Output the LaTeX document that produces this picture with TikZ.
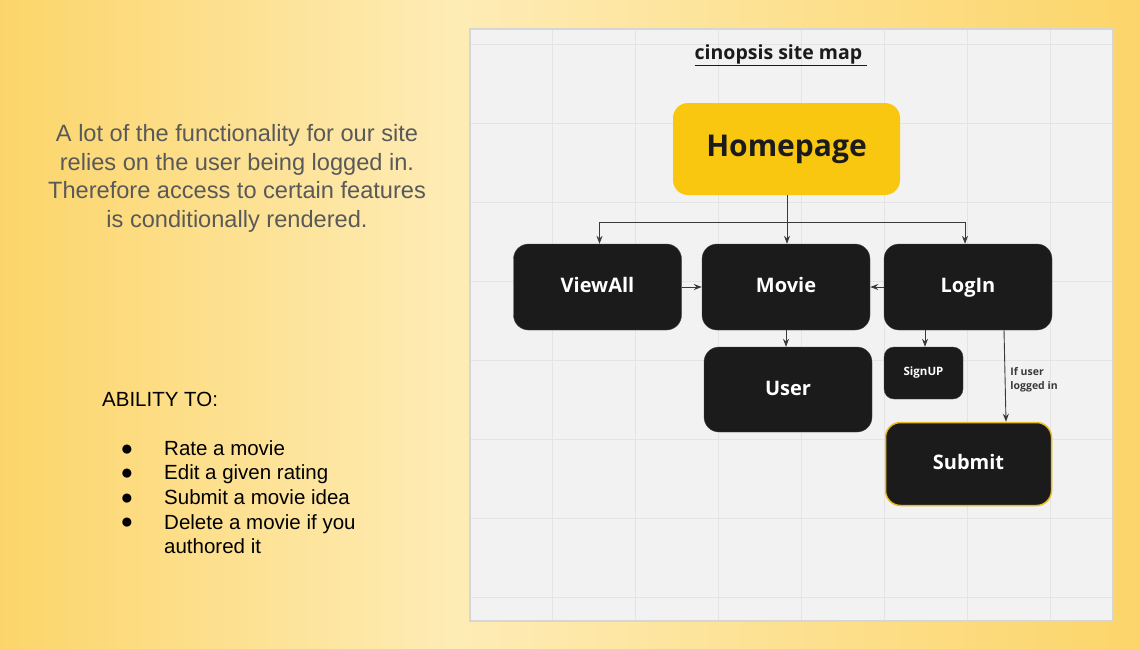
\documentclass[tikz,border=0pt]{standalone}
\usepackage{fontspec}
\setmainfont{Liberation Sans}
\newfontfamily\mapfont{Open Sans}
\usetikzlibrary{arrows.meta,positioning}
\usepackage{xcolor}

\definecolor{bgdark}{HTML}{FCD56A}
\definecolor{bglight}{HTML}{FEECB6}
\definecolor{panelgray}{HTML}{F2F2F2}
\definecolor{gridgray}{HTML}{E4E4E4}
\definecolor{panelborder}{HTML}{D6D6D6}
\definecolor{homeyellow}{HTML}{FAC710}
\definecolor{boxblack}{HTML}{1B1B1B}
\definecolor{submitedge}{HTML}{E9B923}
\definecolor{notegray}{HTML}{595959}
\definecolor{linkgray}{HTML}{3A3A3A}

\pgfdeclarehorizontalshading{bgshade}{100bp}{%
  color(0bp)=(bgdark); color(25bp)=(bgdark); color(45bp)=(bglight);
  color(75bp)=(bgdark); color(100bp)=(bgdark)}

\tikzset{
  pagebox/.style={rectangle,inner sep=0pt,rounded corners=15pt},
  darkbox/.style={pagebox,fill=boxblack,draw=boxblack!80,text=white,
    minimum width=168pt,minimum height=86pt,text height=14.5pt,text depth=3.5pt,
    font=\mapfont\bfseries\fontsize{20}{24}\selectfont},
  link/.style={-{Stealth[length=8pt,width=6pt]},draw=linkgray,line width=0.9pt},
}

\begin{document}
\begin{tikzpicture}[x=1pt,y=-1pt]
        % background and board
        \shade[shading=bgshade] (0,0) rectangle (1139,648);
        \fill[panelgray] (470,29) rectangle (1113,621);
        \foreach \gx in {552,635,...,1050}
          \draw[gridgray,line width=1pt] (\gx,29) -- (\gx,621);
        \foreach \gy in {44,123,...,600}
          \draw[gridgray,line width=1pt] (470,\gy) -- (1113,\gy);
        \draw[panelborder,line width=1.5pt] (470,29) rectangle (1113,621);

        % left side notes
        \node [anchor=north,align=center,inner sep=0pt,text=notegray,
          font=\fontsize{23.6}{28.4}\selectfont] (intro) at (237,124.5)
          {A lot of the functionality for our site\\
           relies on the user being logged in.\\
           Therefore access to certain features\\
           is conditionally rendered.};
        \node [anchor=base west,inner sep=0pt,font=\fontsize{20.5}{24.6}\selectfont]
          (ability) at (102,406.7) {ABILITY TO:};
        \node [anchor=north west,align=left,inner sep=0pt,
          font=\fontsize{20.5}{24.6}\selectfont] (abilitylist) at (164,440.2)
          {Rate a movie\\ Edit a given rating\\ Submit a movie idea\\
           Delete a movie if you\\ authored it};
        \foreach \by [count=\i] in {455,479.6,504.2,528.8}
          \node [anchor=base,inner sep=0pt,font=\fontsize{21}{24}\selectfont]
            (bullet\i) at (127,\by) {●};

        % site map
        \node [inner sep=0pt,font=\mapfont\bfseries\fontsize{19.5}{23}\selectfont,
          text=boxblack] (title) at (781,55) {\underline{cinopsis site map\ }};
        \node [pagebox,fill=homeyellow,minimum width=227pt,minimum height=92pt,
          text=boxblack,font=\mapfont\bfseries\fontsize{30}{36}\selectfont]
          (home) at (786.5,149) {Homepage};
        \node [darkbox] (viewall) at (597.5,287) {ViewAll};
        \node [darkbox] (movie) at (786,287) {Movie};
        \node [darkbox] (login) at (968,287) {LogIn};
        \node [darkbox,minimum height=85pt] (user) at (788,389.5) {User};
        \node [darkbox,minimum width=79pt,minimum height=52pt,rounded corners=10pt,
          text height=8.5pt,text depth=3pt,
          font=\mapfont\bfseries\fontsize{11.5}{14}\selectfont] (signup) at (923.5,373) {SignUP};
        \node [darkbox,draw=submitedge,line width=1.5pt,minimum width=166pt,
          minimum height=83pt] (submit) at (968.5,464) {Submit};

        \coordinate (bus) at (787,222);
        \draw[link] (home.south -| bus) -- (movie.north -| bus);
        \draw[link] (bus) -| ([xshift=2pt]viewall.north);
        \draw[link] (bus) -| ([xshift=-3pt]login.north);
        \draw[link] (viewall) -- (movie);
        \draw[link] (login) -- (movie);
        \draw[link] (movie.south) -- (movie.south |- user.north);
        \draw[link] (login.south -| 925,0) -- (signup.north -| 925,0);
        \draw[link] ([xshift=36pt]login.south) -- ([xshift=37.5pt]submit.north)
          node [pos=0.5,anchor=west,align=left,inner sep=0pt,xshift=5pt,yshift=-4pt,
            text=linkgray,font=\mapfont\bfseries\fontsize{10.5}{14.5}\selectfont] (cond)
          {If user\\ logged in};
\end{tikzpicture}
\end{document}
